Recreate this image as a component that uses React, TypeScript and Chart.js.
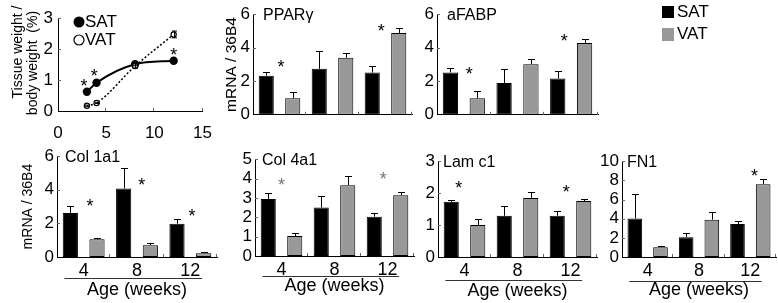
import React, { useEffect, useRef } from 'react';
import { Chart, registerables } from 'chart.js';

Chart.register(...registerables);

const FONT = "'Liberation Sans', Arial, Helvetica, sans-serif";

// ---------------- data ----------------
const ageLabels = ['4', '8', '12'];

// Tissue weight / body weight (%)
const weightAges = [3, 4, 8, 12];
const satWeight = [0.62, 0.91, 1.51, 1.62];
const satWeightErr = [0.03, 0.03, 0.05, 0.06];
const vatWeight = [0.17, 0.26, 1.45, 2.47];
const vatWeightErr = [0.02, 0.02, 0.07, 0.11];
const weightStarX = [2.7, 3.75, 12];
const weightStarY = [0.94, 1.26, 1.94];
const weightTitleLines = ['Tissue weight /', 'body weight  (%)'];
const weightXTicks = [0, 5, 10, 15];
const weightYTicks = [0, 1, 2, 3];

// PPARγ
const pparSat = [2.33, 2.74, 2.52];
const pparSatErr = [0.23, 1.05, 0.39];
const pparVat = [0.99, 3.4, 4.88];
const pparVatErr = [0.35, 0.3, 0.27];
const pparStarGroup = [0, 2];
const pparStarY = [3.1, 5.24];

// aFABP
const fabpSat = [2.53, 1.89, 2.16];
const fabpSatErr = [0.25, 0.85, 0.43];
const fabpVat = [0.99, 3.02, 4.28];
const fabpVatErr = [0.42, 0.32, 0.22];
const fabpStarGroup = [0, 2];
const fabpStarY = [2.68, 4.65];

// Col 1a1
const col1Sat = [2.62, 4.08, 1.98];
const col1SatErr = [0.44, 1.2, 0.27];
const col1Vat = [1.05, 0.7, 0.23];
const col1VatErr = [0.1, 0.15, 0.06];
const col1StarGroup = [0, 1, 2];
const col1StarY = [3.32, 4.54, 2.68];

// Col 4a1
const col4Sat = [2.95, 2.5, 2.03];
const col4SatErr = [0.29, 0.6, 0.21];
const col4Vat = [1.03, 3.66, 3.14];
const col4VatErr = [0.16, 0.48, 0.14];
const col4StarGroup = [0, 2];
const col4StarY = [3.92, 4.23];

// Lam c1
const lamSat = [1.73, 1.29, 1.29];
const lamSatErr = [0.07, 0.3, 0.15];
const lamVat = [1.0, 1.85, 1.75];
const lamVatErr = [0.18, 0.17, 0.08];
const lamStarGroup = [0, 2];
const lamStarY = [2.31, 2.16];

// FN1
const fnSat = [4.03, 2.07, 3.45];
const fnSatErr = [2.57, 0.48, 0.27];
const fnVat = [1.03, 3.9, 7.6];
const fnVatErr = [0.11, 0.75, 0.5];
const fnStarGroup = [2];
const fnStarY = [8.87];

// ---------------- panels ----------------
type BarSpec = {
  title: string;
  sat: number[];
  satErr: number[];
  vat: number[];
  vatErr: number[];
  yMax: number;
  yStep: number;
  starGroup: number[];
  starY: number[];
  area: [number, number, number, number];
  yW: number;
  xH: number;
  padT: number;
  padR: number;
  yTitle?: string;
  yTitleSize: number;
  showAge: boolean;
  starDx: number[];
  starColor: string;
  titleDx: number;
  lineOff: number;
};

const barPanels: BarSpec[] = [
  {
    title: 'PPARγ', sat: pparSat, satErr: pparSatErr, vat: pparVat, vatErr: pparVatErr,
    yMax: 6, yStep: 2, starGroup: pparStarGroup, starY: pparStarY,
    area: [253, 13, 412, 116], yW: 31, xH: 12, padT: 12, padR: 6, yTitle: 'mRNA / 36B4', yTitleSize: 15.5,
    showAge: false, starDx: [0.03, -0.08], starColor: '#000', titleDx: 10, lineOff: 0,
  },
  {
    title: 'aFABP', sat: fabpSat, satErr: fabpSatErr, vat: fabpVat, vatErr: fabpVatErr,
    yMax: 6, yStep: 2, starGroup: fabpStarGroup, starY: fabpStarY,
    area: [437, 13, 598, 116], yW: 30, xH: 12, padT: 12, padR: 6, yTitleSize: 13,
    showAge: false, starDx: [0.1, -0.13], starColor: '#000', titleDx: 10, lineOff: 0,
  },
  {
    title: 'Col 1a1', sat: col1Sat, satErr: col1SatErr, vat: col1Vat, vatErr: col1VatErr,
    yMax: 6, yStep: 2, starGroup: col1StarGroup, starY: col1StarY,
    area: [57, 155, 217, 257], yW: 37, xH: 44, padT: 12, padR: 6, yTitle: 'mRNA / 36B4', yTitleSize: 14,
    showAge: true, starDx: [0.12, 0.09, 0.03], starColor: '#000', titleDx: 8, lineOff: 21,
  },
  {
    title: 'Col 4a1', sat: col4Sat, satErr: col4SatErr, vat: col4Vat, vatErr: col4VatErr,
    yMax: 5, yStep: 1, starGroup: col4StarGroup, starY: col4StarY,
    area: [255, 158, 414, 256], yW: 30, xH: 41, padT: 12, padR: 6, yTitleSize: 13,
    showAge: true, starDx: [0, -0.08], starColor: '#777', titleDx: 7, lineOff: 20,
  },
  {
    title: 'Lam c1', sat: lamSat, satErr: lamSatErr, vat: lamVat, vatErr: lamVatErr,
    yMax: 3, yStep: 1, starGroup: lamStarGroup, starY: lamStarY,
    area: [438, 160, 597, 257], yW: 30, xH: 45, padT: 12, padR: 6, yTitleSize: 13,
    showAge: true, starDx: [-0.11, -0.08], starColor: '#000', titleDx: 5, lineOff: 23,
  },
  {
    title: 'FN1', sat: fnSat, satErr: fnSatErr, vat: fnVat, vatErr: fnVatErr,
    yMax: 10, yStep: 2, starGroup: fnStarGroup, starY: fnStarY,
    area: [622, 160, 776, 257], yW: 40, xH: 44, padT: 12, padR: 2, yTitleSize: 13,
    showAge: true, starDx: [0.08], starColor: '#000', titleDx: 5, lineOff: 24,
  },
];

function starAt(ctx: CanvasRenderingContext2D, x: number, y: number, size: number) {
  ctx.font = `${size}px ${FONT}`;
  ctx.textAlign = 'center';
  ctx.textBaseline = 'alphabetic';
  ctx.fillText('*', x, y + 0.58 * size);
}

function barDecor(spec: BarSpec) {
  return {
    id: 'barDecor',
    afterDatasetsDraw(chart: any) {
      const ctx: CanvasRenderingContext2D = chart.ctx;
      const area = chart.chartArea;
      const xs = chart.scales.x;
      const ys = chart.scales.y;
      const cat = (area.right - area.left) / 3;
      ctx.save();
      ctx.strokeStyle = '#000';
      ctx.lineWidth = 1;
      [spec.satErr, spec.vatErr].forEach((errs, di) => {
        const meta = chart.getDatasetMeta(di);
        const vals = di === 0 ? spec.sat : spec.vat;
        meta.data.forEach((bar: any, i: number) => {
          const x = Math.round(bar.x) + 0.5;
          const y1 = Math.round(ys.getPixelForValue(vals[i] + errs[i])) + 0.5;
          ctx.beginPath();
          ctx.moveTo(x, bar.y);
          ctx.lineTo(x, y1);
          ctx.moveTo(x - 3.5, y1);
          ctx.lineTo(x + 3.5, y1);
          ctx.stroke();
        });
      });
      ctx.strokeStyle = '#666';
      ctx.beginPath();
      ys.ticks.forEach((tk: any) => {
        if (tk.value === ys.min) return;
        const y = Math.round(ys.getPixelForValue(tk.value)) + 0.5;
        ctx.moveTo(area.left, y);
        ctx.lineTo(area.left + 3, y);
      });
      for (let i = 1; i <= 3; i++) {
        const x = Math.round(area.left + cat * i) - 0.5;
        ctx.moveTo(x, area.bottom);
        ctx.lineTo(x, area.bottom - 3);
      }
      ctx.stroke();
      ctx.fillStyle = spec.starColor;
      spec.starGroup.forEach((g, k) => {
        const x = xs.getPixelForValue(g) + spec.starDx[k] * cat;
        const y = ys.getPixelForValue(spec.starY[k]);
        starAt(ctx, x, y, 18);
      });
      ctx.fillStyle = '#000';
      ctx.font = `16px ${FONT}`;
      ctx.textAlign = 'left';
      ctx.textBaseline = 'middle';
      ctx.fillText(spec.title, area.left + spec.titleDx, area.top + 1);
      if (spec.showAge) {
        const yl = Math.round(area.bottom + spec.lineOff) + 0.5;
        ctx.strokeStyle = '#333';
        ctx.beginPath();
        ctx.moveTo(xs.getPixelForValue(0) - 0.36 * cat, yl);
        ctx.lineTo(xs.getPixelForValue(2) + 0.22 * cat, yl);
        ctx.stroke();
      }
      ctx.restore();
    },
  };
}

function boxOf(area: number[], yW: number, xH: number, padT: number, padR: number) {
  const [l, t, r, b] = area;
  const x = l - yW;
  const y = t - padT;
  return { x, y, w: r + padR - x, h: b + xH - y };
}

function makeBarConfig(spec: BarSpec): any {
  return {
    type: 'bar',
    data: {
      labels: ageLabels,
      datasets: [
        { label: 'SAT', data: spec.sat, backgroundColor: '#000', borderColor: '#000', borderWidth: 1, borderSkipped: false },
        { label: 'VAT', data: spec.vat, backgroundColor: '#999999', borderColor: '#000', borderWidth: 1, borderSkipped: false },
      ],
    },
    options: {
      responsive: false,
      animation: false,
      events: [],
      layout: { padding: { top: spec.padT, right: spec.padR, left: 0, bottom: 0 } },
      plugins: { legend: { display: false }, tooltip: { enabled: false } },
      datasets: { bar: { categoryPercentage: 1, barPercentage: 0.57 } },
      scales: {
        x: {
          grid: { display: false, drawTicks: false },
          border: { display: true, color: '#000', width: 1 },
          ticks: { display: spec.showAge, autoSkip: false, color: '#000', padding: 3, font: { family: FONT, size: 18 }, maxRotation: 0 },
          title: {
            display: spec.showAge, text: 'Age (weeks)', color: '#000',
            font: { family: FONT, size: 18 }, padding: { top: 0, bottom: 0 },
          },
          afterFit: (s: any) => { s.height = spec.xH; },
        },
        y: {
          min: 0,
          max: spec.yMax,
          grid: { display: false, drawTicks: false },
          border: { display: true, color: '#000', width: 1 },
          ticks: { stepSize: spec.yStep, autoSkip: false, color: '#000', padding: 3, font: { family: FONT, size: 17 } },
          title: {
            display: !!spec.yTitle, text: spec.yTitle || '', color: '#000',
            font: { family: FONT, size: spec.yTitleSize }, padding: { top: 0, bottom: 0 },
          },
          afterFit: (s: any) => { s.width = spec.yW; },
        },
      },
    },
    plugins: [barDecor(spec)],
  };
}

const lineArea = [58, 18, 212, 111];
const lineYW = 48;
const lineXH = 30;
const linePadT = 18;
const linePadR = 12;

const lineDecor = {
  id: 'lineDecor',
  afterDraw(chart: any) {
    const ctx: CanvasRenderingContext2D = chart.ctx;
    const area = chart.chartArea;
    const xs = chart.scales.x;
    const ys = chart.scales.y;
    ctx.save();
    ctx.strokeStyle = '#000';
    ctx.lineWidth = 1;
    const errSets = [
      [satWeight, satWeightErr],
      [vatWeight, vatWeightErr],
    ];
    errSets.forEach(([vals, errs]) => {
      vals.forEach((v, i) => {
        const x = Math.round(xs.getPixelForValue(weightAges[i])) + 0.5;
        const y0 = ys.getPixelForValue(v - errs[i]);
        const y1 = ys.getPixelForValue(v + errs[i]);
        ctx.beginPath();
        ctx.moveTo(x, y0);
        ctx.lineTo(x, y1);
        ctx.moveTo(x - 2.5, y0);
        ctx.lineTo(x + 2.5, y0);
        ctx.moveTo(x - 2.5, y1);
        ctx.lineTo(x + 2.5, y1);
        ctx.stroke();
      });
    });
    ctx.strokeStyle = '#666';
    ctx.beginPath();
    weightYTicks.forEach((v) => {
      if (v === 0) return;
      const y = Math.round(ys.getPixelForValue(v)) + 0.5;
      ctx.moveTo(area.left, y);
      ctx.lineTo(area.left + 3, y);
    });
    weightXTicks.forEach((v) => {
      if (v === 0) return;
      const x = Math.round(xs.getPixelForValue(v)) - 0.5;
      ctx.moveTo(x, area.bottom);
      ctx.lineTo(x, area.bottom - 3);
    });
    ctx.stroke();
    ctx.fillStyle = '#000';
    weightStarX.forEach((sx, k) => {
      starAt(ctx, xs.getPixelForValue(sx), ys.getPixelForValue(weightStarY[k]), 18);
    });
    // legend
    const lx = area.left + 21;
    ctx.beginPath();
    ctx.arc(lx, area.top + 4, 5.5, 0, Math.PI * 2);
    ctx.fill();
    ctx.strokeStyle = '#000';
    ctx.lineWidth = 1.2;
    ctx.beginPath();
    ctx.arc(lx, area.top + 22, 5, 0, Math.PI * 2);
    ctx.stroke();
    ctx.font = `17px ${FONT}`;
    ctx.textAlign = 'left';
    ctx.textBaseline = 'middle';
    ctx.fillText('SAT', lx + 6, area.top + 4);
    ctx.fillText('VAT', lx + 6, area.top + 22);
    // axis title (two rotated lines)
    ctx.font = `14px ${FONT}`;
    ctx.textAlign = 'center';
    ctx.textBaseline = 'middle';
    const titleX = [area.left - 40, area.left - 25];
    const titleY = [area.top + 34, area.top + 45];
    weightTitleLines.forEach((line, k) => {
      ctx.save();
      ctx.translate(titleX[k], titleY[k]);
      ctx.rotate(-Math.PI / 2);
      ctx.fillText(line, 0, 0);
      ctx.restore();
    });
    ctx.restore();
  },
};

function makeLineConfig(): any {
  return {
    type: 'line',
    data: {
      datasets: [
        {
          label: 'VAT',
          data: weightAges.map((x, i) => ({ x, y: vatWeight[i] })),
          borderColor: '#000', borderWidth: 1.5, borderDash: [2, 2],
          pointRadius: 2.6, pointBackgroundColor: '#fff', pointBorderColor: '#000', pointBorderWidth: 1.2,
          cubicInterpolationMode: 'monotone', fill: false,
        },
        {
          label: 'SAT',
          data: weightAges.map((x, i) => ({ x, y: satWeight[i] })),
          borderColor: '#000', borderWidth: 2,
          pointRadius: 3.2, pointBackgroundColor: '#000', pointBorderColor: '#000',
          cubicInterpolationMode: 'monotone', fill: false,
        },
      ],
    },
    options: {
      responsive: false,
      animation: false,
      events: [],
      layout: { padding: { top: linePadT, right: linePadR, left: 0, bottom: 0 } },
      plugins: { legend: { display: false }, tooltip: { enabled: false } },
      scales: {
        x: {
          type: 'linear', min: 0, max: 15,
          grid: { display: false, drawTicks: false },
          border: { display: true, color: '#000', width: 1 },
          ticks: { autoSkip: false, color: '#000', padding: 12, font: { family: FONT, size: 17 }, maxRotation: 0 },
          afterBuildTicks: (s: any) => { s.ticks = weightXTicks.map((v) => ({ value: v })); },
          afterFit: (s: any) => { s.height = lineXH; },
        },
        y: {
          type: 'linear', min: 0, max: 3,
          grid: { display: false, drawTicks: false },
          border: { display: true, color: '#000', width: 1 },
          ticks: { autoSkip: false, color: '#000', padding: 5, font: { family: FONT, size: 17 } },
          afterBuildTicks: (s: any) => { s.ticks = weightYTicks.map((v) => ({ value: v })); },
          afterFit: (s: any) => { s.width = lineYW; },
        },
      },
    },
    plugins: [lineDecor],
  };
}

function ChartCanvas({ box, make }: { box: { x: number; y: number; w: number; h: number }; make: () => any }) {
  const ref = useRef<HTMLCanvasElement | null>(null);
  useEffect(() => {
    if (!ref.current) return;
    const chart = new Chart(ref.current, make());
    return () => chart.destroy();
  }, []);
  return (
    <canvas
      ref={ref}
      width={box.w}
      height={box.h}
      style={{ position: 'absolute', left: box.x, top: box.y, width: box.w, height: box.h }}
    />
  );
}

export default function App() {
  const lineBox = boxOf(lineArea, lineYW, lineXH, linePadT, linePadR);
  return (
    <div
      style={{
        position: 'fixed', left: 0, top: 0, width: 778, height: 303,
        overflow: 'hidden', background: '#fff', fontFamily: FONT,
      }}
    >
      <ChartCanvas box={lineBox} make={makeLineConfig} />
      {barPanels.map((p, i) => (
        <ChartCanvas key={i} box={boxOf(p.area, p.yW, p.xH, p.padT, p.padR)} make={() => makeBarConfig(p)} />
      ))}
      <div style={{ position: 'absolute', left: 662, top: 6, width: 12, height: 12, background: '#000' }} />
      <div style={{ position: 'absolute', left: 677, top: 3, fontSize: 17, lineHeight: '18px', color: '#000' }}>SAT</div>
      <div style={{ position: 'absolute', left: 662, top: 28, width: 12, height: 13, background: '#999999' }} />
      <div style={{ position: 'absolute', left: 677, top: 25, fontSize: 17, lineHeight: '18px', color: '#000' }}>VAT</div>
    </div>
  );
}
